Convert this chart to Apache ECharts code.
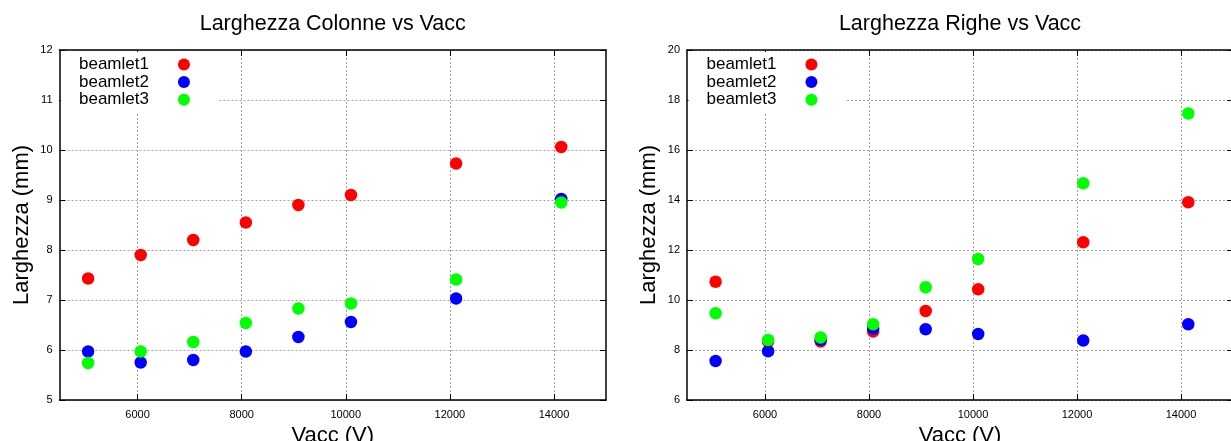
<!DOCTYPE html>
<html>
<head>
<meta charset="utf-8">
<title>Larghezza vs Vacc</title>
<script src="https://cdn.jsdelivr.net/npm/echarts@6/dist/echarts.min.js"></script>
<style>
  html, body { margin: 0; padding: 0; background: #fff; }
  #chart { width: 1231px; height: 441px; }
</style>
</head>
<body>
<div id="chart"></div>
<script>
// Accelerating voltage (V) for each measurement
const vacc = [5050, 6060, 7070, 8080, 9090, 10100, 12120, 14140];

// Column width (mm) per beamlet
const colBeamlet1 = [7.43, 7.90, 8.20, 8.55, 8.90, 9.10, 9.73, 10.06];
const colBeamlet2 = [5.97, 5.75, 5.80, 5.97, 6.26, 6.56, 7.03, 9.02];
const colBeamlet3 = [5.74, 5.97, 6.16, 6.54, 6.83, 6.93, 7.41, 8.95];

// Row width (mm) per beamlet
const rowBeamlet1 = [10.73, 8.34, 8.34, 8.74, 9.56, 10.43, 12.31, 13.91];
const rowBeamlet2 = [7.56, 7.95, 8.41, 8.86, 8.83, 8.64, 8.38, 9.03];
const rowBeamlet3 = [9.47, 8.40, 8.50, 9.03, 10.51, 11.64, 14.67, 17.46];

// Tick labels
const xTicks = [6000, 8000, 10000, 12000, 14000];
const seriesNames = ['beamlet1', 'beamlet2', 'beamlet3'];
const colors = ['#ff0000', '#0000ff', '#00ff00'];

const FONT = 'Liberation Sans, Arial, sans-serif';
const xRange = { min: 4500, max: 15000 };
const panels = [
  { title: 'Larghezza Colonne vs Vacc', left: 59.5, width: 546.5, yMin: 5, yMax: 12, yStep: 1,
    data: [colBeamlet1, colBeamlet2, colBeamlet3] },
  { title: 'Larghezza Righe vs Vacc', left: 687, width: 546, yMin: 6, yMax: 20, yStep: 2,
    data: [rowBeamlet1, rowBeamlet2, rowBeamlet3] }
];
const TOP = 50, HEIGHT = 350;

const gridLine = { show: true, lineStyle: { color: '#a0a0a0', type: [2, 2], width: 1 } };
const frameLine = { show: true, onZero: false, lineStyle: { color: '#000', width: 1.5 } };
const innerTick = { show: true, inside: true, length: 6, lineStyle: { color: '#000', width: 1 } };

const option = {
  animation: false,
  backgroundColor: '#fff',
  title: [], legend: [], grid: [], xAxis: [], yAxis: [], series: []
};

panels.forEach((p, i) => {
  // fixed plot box; the axis title may run off the bottom edge
  option.grid.push({ left: p.left, top: TOP, width: p.width, height: HEIGHT,
    containLabel: false, outerBoundsMode: 'none' });

  option.title.push({
    text: p.title, left: p.left + p.width / 2, top: 13.5, textAlign: 'center', padding: 0,
    textStyle: { fontFamily: FONT, fontSize: 21.5, fontWeight: 'normal', color: '#000' }
  });

  option.legend.push({
    data: seriesNames, orient: 'vertical', align: 'right',
    left: p.left + 1.5, top: TOP + 2,
    padding: [4, 28, 4, 18],
    backgroundColor: '#fff',
    icon: 'circle', itemWidth: 12, itemHeight: 12, itemGap: 0.6,
    selectedMode: false,
    textStyle: { fontFamily: FONT, fontSize: 17, lineHeight: 17, color: '#000', padding: [0, 24, 0, 0] }
  });

  // bottom axis
  option.xAxis.push({
    type: 'value', gridIndex: i, position: 'bottom', ...xRange,
    axisLine: frameLine, axisTick: { ...innerTick, customValues: xTicks },
    axisLabel: { customValues: xTicks, formatter: v => String(v),
      fontFamily: FONT, fontSize: 11, color: '#000', margin: 9 },
    splitLine: gridLine,
    name: 'Vacc (V)', nameLocation: 'middle', nameGap: 17,
    nameTextStyle: { fontFamily: FONT, fontSize: 22, color: '#000' }
  });
  // top mirror axis
  option.xAxis.push({
    type: 'value', gridIndex: i, position: 'top', ...xRange,
    axisLine: frameLine, axisTick: { ...innerTick, customValues: xTicks },
    axisLabel: { show: false, customValues: xTicks }, splitLine: { show: false }
  });
  // left axis
  option.yAxis.push({
    type: 'value', gridIndex: i, position: 'left', min: p.yMin, max: p.yMax, interval: p.yStep,
    axisLine: frameLine, axisTick: innerTick,
    axisLabel: { fontFamily: FONT, fontSize: 11, color: '#000', margin: 7 },
    splitLine: gridLine,
    name: 'Larghezza (mm)', nameLocation: 'middle', nameGap: 27, nameRotate: 90,
    nameTextStyle: { fontFamily: FONT, fontSize: 22, color: '#000' }
  });
  // right mirror axis
  option.yAxis.push({
    type: 'value', gridIndex: i, position: 'right', min: p.yMin, max: p.yMax, interval: p.yStep,
    axisLine: frameLine, axisTick: innerTick,
    axisLabel: { show: false }, splitLine: { show: false }
  });

  p.data.forEach((vals, k) => {
    option.series.push({
      name: seriesNames[k], type: 'scatter',
      xAxisIndex: i * 2, yAxisIndex: i * 2,
      symbol: 'circle', symbolSize: 12.5,
      itemStyle: { color: colors[k], opacity: 1 },
      data: vacc.map((v, j) => [v, vals[j]])
    });
  });
});

const chart = echarts.init(document.getElementById('chart'), null, { renderer: 'canvas' });
chart.setOption(option);
</script>
</body>
</html>
